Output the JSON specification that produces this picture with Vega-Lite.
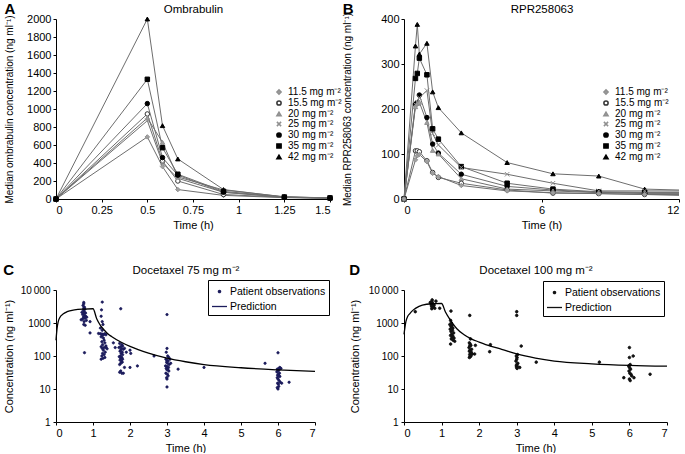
{
"$schema": "https://vega.github.io/schema/vega-lite/v6.json",
"padding": {"left": 3, "top": 2, "right": 0, "bottom": 0},
"background": "white",
"config": {
  "font": "Liberation Sans",
  "view": {"stroke": null},
  "axis": {"grid": false, "domainColor": "#000", "tickColor": "#000", "labelColor": "#000", "titleColor": "#000", "labelFont": "Liberation Sans", "titleFont": "Liberation Sans", "labelFontSize": 11, "titleFontSize": 11, "titleFontWeight": "normal", "tickSize": 3, "labelPadding": 2, "labelOverlap": false, "titleLimit": 400},
  "title": {"font": "Liberation Sans", "fontSize": 15, "fontWeight": "bold", "anchor": "start", "frame": "bounds", "offset": -14, "color": "#000"},
  "legend": {"labelFont": "Liberation Sans", "labelColor": "#000"}
},
"datasets": {
  "A": [
    {"d":"11.5","t":0,"c":0},{"d":"11.5","t":0.5,"c":690},{"d":"11.5","t":0.583,"c":360},{"d":"11.5","t":0.667,"c":105},{"d":"11.5","t":0.917,"c":40},{"d":"11.5","t":1.25,"c":15},{"d":"11.5","t":1.5,"c":8},
    {"d":"15.5","t":0,"c":0},{"d":"15.5","t":0.5,"c":945},{"d":"15.5","t":0.583,"c":420},{"d":"15.5","t":0.667,"c":200},{"d":"15.5","t":0.917,"c":50},{"d":"15.5","t":1.25,"c":18},{"d":"15.5","t":1.5,"c":10},
    {"d":"20","t":0,"c":0},{"d":"20","t":0.5,"c":900},{"d":"20","t":0.583,"c":630},{"d":"20","t":0.667,"c":245},{"d":"20","t":0.917,"c":100},{"d":"20","t":1.25,"c":25},{"d":"20","t":1.5,"c":12},
    {"d":"25","t":0,"c":0},{"d":"25","t":0.5,"c":870},{"d":"25","t":0.583,"c":400},{"d":"25","t":0.667,"c":230},{"d":"25","t":0.917,"c":75},{"d":"25","t":1.25,"c":20},{"d":"25","t":1.5,"c":10},
    {"d":"30","t":0,"c":0},{"d":"30","t":0.5,"c":1060},{"d":"30","t":0.583,"c":460},{"d":"30","t":0.667,"c":265},{"d":"30","t":0.917,"c":75},{"d":"30","t":1.25,"c":20},{"d":"30","t":1.5,"c":10},
    {"d":"35","t":0,"c":0},{"d":"35","t":0.5,"c":1330},{"d":"35","t":0.583,"c":570},{"d":"35","t":0.667,"c":275},{"d":"35","t":0.917,"c":85},{"d":"35","t":1.25,"c":22},{"d":"35","t":1.5,"c":12},
    {"d":"42","t":0,"c":0},{"d":"42","t":0.5,"c":2000},{"d":"42","t":0.583,"c":815},{"d":"42","t":0.667,"c":445},{"d":"42","t":0.917,"c":105},{"d":"42","t":1.25,"c":22},{"d":"42","t":1.5,"c":12}
  ],
  "B": [
    {"d":"42","t":0,"c":0},{"d":"42","t":0.5,"c":340},{"d":"42","t":0.58,"c":388},{"d":"42","t":0.67,"c":322},{"d":"42","t":1,"c":346},{"d":"42","t":1.25,"c":238},{"d":"42","t":1.5,"c":203},{"d":"42","t":2.5,"c":147},{"d":"42","t":4.5,"c":81},{"d":"42","t":6.5,"c":56},{"d":"42","t":8.5,"c":51},{"d":"42","t":10.5,"c":22},{"d":"42","t":12,"c":20},
    {"d":"35","t":0,"c":0},{"d":"35","t":0.5,"c":268},{"d":"35","t":0.58,"c":279},{"d":"35","t":0.67,"c":313},{"d":"35","t":1,"c":276},{"d":"35","t":1.25,"c":156},{"d":"35","t":1.5,"c":133},{"d":"35","t":2.5,"c":72},{"d":"35","t":4.5,"c":35},{"d":"35","t":6.5,"c":22},{"d":"35","t":8.5,"c":16},{"d":"35","t":10.5,"c":15},{"d":"35","t":12,"c":15},
    {"d":"30","t":0,"c":0},{"d":"30","t":0.5,"c":211},{"d":"30","t":0.58,"c":213},{"d":"30","t":0.67,"c":231},{"d":"30","t":1,"c":181},{"d":"30","t":1.25,"c":122},{"d":"30","t":1.5,"c":102},{"d":"30","t":2.5,"c":55},{"d":"30","t":4.5,"c":28},{"d":"30","t":6.5,"c":20},{"d":"30","t":8.5,"c":15},{"d":"30","t":10.5,"c":12},{"d":"30","t":12,"c":12},
    {"d":"25","t":0,"c":0},{"d":"25","t":0.5,"c":210},{"d":"25","t":0.58,"c":215},{"d":"25","t":0.67,"c":225},{"d":"25","t":1,"c":241},{"d":"25","t":1.25,"c":145},{"d":"25","t":1.5,"c":120},{"d":"25","t":2.5,"c":70},{"d":"25","t":4.5,"c":55},{"d":"25","t":6.5,"c":35},{"d":"25","t":8.5,"c":18},{"d":"25","t":10.5,"c":18},{"d":"25","t":12,"c":18},
    {"d":"20","t":0,"c":0},{"d":"20","t":0.5,"c":205},{"d":"20","t":0.58,"c":212},{"d":"20","t":0.67,"c":215},{"d":"20","t":1,"c":170},{"d":"20","t":1.25,"c":108},{"d":"20","t":1.5,"c":100},{"d":"20","t":2.5,"c":45},{"d":"20","t":4.5,"c":22},{"d":"20","t":6.5,"c":18},{"d":"20","t":8.5,"c":14},{"d":"20","t":10.5,"c":14},{"d":"20","t":12,"c":14},
    {"d":"15.5","t":0,"c":0},{"d":"15.5","t":0.5,"c":107},{"d":"15.5","t":0.58,"c":107},{"d":"15.5","t":0.67,"c":105},{"d":"15.5","t":1,"c":85},{"d":"15.5","t":1.25,"c":59},{"d":"15.5","t":1.5,"c":48},{"d":"15.5","t":2.5,"c":35},{"d":"15.5","t":4.5,"c":20},{"d":"15.5","t":6.5,"c":13},{"d":"15.5","t":8.5,"c":12},{"d":"15.5","t":10.5,"c":10},{"d":"15.5","t":12,"c":10},
    {"d":"11.5","t":0,"c":0},{"d":"11.5","t":0.5,"c":87},{"d":"11.5","t":0.58,"c":96},{"d":"11.5","t":0.67,"c":99},{"d":"11.5","t":1,"c":83},{"d":"11.5","t":1.25,"c":57},{"d":"11.5","t":1.5,"c":50},{"d":"11.5","t":2.5,"c":30},{"d":"11.5","t":4.5,"c":18},{"d":"11.5","t":6.5,"c":14},{"d":"11.5","t":8.5,"c":12},{"d":"11.5","t":10.5,"c":10},{"d":"11.5","t":12,"c":8}
  ],
  "Cobs": [
    {"t":0.72,"c":1300},{"t":0.68,"c":1250},{"t":0.75,"c":4200},{"t":0.75,"c":3800},{"t":0.73,"c":3400},{"t":0.77,"c":3000},{"t":0.75,"c":2800},{"t":0.78,"c":2600},{"t":0.74,"c":2400},{"t":0.76,"c":2200},{"t":0.8,"c":2000},{"t":0.75,"c":1900},{"t":0.72,"c":1800},{"t":0.77,"c":1700},{"t":0.8,"c":1600},{"t":0.74,"c":1500},{"t":0.78,"c":1400},{"t":0.82,"c":1200},{"t":0.76,"c":1100},{"t":0.75,"c":900},{"t":0.79,"c":850},{"t":0.77,"c":126},{"t":0.92,"c":1100},{"t":0.92,"c":500},{"t":0.7,"c":2100},{"t":0.83,"c":1500},
    {"t":1.25,"c":4300},{"t":1.23,"c":2500},{"t":1.22,"c":1600},{"t":1.25,"c":1100},{"t":1.27,"c":900},{"t":1.2,"c":700},{"t":1.25,"c":600},{"t":1.15,"c":480},{"t":1.2,"c":470},{"t":1.23,"c":460},{"t":1.26,"c":455},{"t":1.29,"c":450},{"t":1.32,"c":470},{"t":1.35,"c":440},{"t":1.25,"c":420},{"t":1.22,"c":380},{"t":1.28,"c":350},{"t":1.3,"c":300},{"t":1.24,"c":270},{"t":1.32,"c":250},{"t":1.26,"c":220},{"t":1.35,"c":200},{"t":1.22,"c":190},{"t":1.3,"c":180},{"t":1.25,"c":170},{"t":1.38,"c":165},{"t":1.28,"c":150},{"t":1.33,"c":130},{"t":1.26,"c":120},{"t":1.3,"c":110},{"t":1.24,"c":100},{"t":1.32,"c":90},{"t":1.27,"c":85},{"t":1.22,"c":80},{"t":1.35,"c":180},
    {"t":1.55,"c":250},{"t":1.6,"c":180},{"t":1.75,"c":2700},{"t":1.72,"c":240},{"t":1.78,"c":220},{"t":1.8,"c":200},{"t":1.74,"c":190},{"t":1.7,"c":180},{"t":1.77,"c":170},{"t":1.82,"c":160},{"t":1.75,"c":150},{"t":1.73,"c":140},{"t":1.79,"c":130},{"t":1.76,"c":120},{"t":1.8,"c":110},{"t":1.74,"c":100},{"t":1.71,"c":95},{"t":1.78,"c":90},{"t":1.75,"c":85},{"t":1.8,"c":80},{"t":1.73,"c":75},{"t":1.77,"c":70},{"t":1.79,"c":65},{"t":1.75,"c":60},{"t":1.72,"c":55},{"t":1.85,"c":45},{"t":1.75,"c":35},{"t":1.72,"c":32},{"t":1.78,"c":30},{"t":1.82,"c":30},{"t":2.0,"c":150},{"t":2.02,"c":120},{"t":2.0,"c":45},{"t":2.2,"c":50},{"t":2.65,"c":100},{"t":1.85,"c":170},{"t":1.9,"c":130},
    {"t":3.0,"c":1800},{"t":3.0,"c":170},{"t":2.98,"c":130},{"t":3.02,"c":100},{"t":3.05,"c":90},{"t":2.97,"c":80},{"t":3.0,"c":75},{"t":3.03,"c":70},{"t":2.99,"c":65},{"t":3.01,"c":60},{"t":3.06,"c":55},{"t":2.96,"c":50},{"t":3.0,"c":48},{"t":3.04,"c":45},{"t":2.98,"c":42},{"t":3.02,"c":40},{"t":3.0,"c":38},{"t":3.05,"c":35},{"t":2.97,"c":30},{"t":3.01,"c":28},{"t":3.03,"c":25},{"t":2.99,"c":22},{"t":3.0,"c":20},{"t":3.0,"c":11.5},{"t":3.3,"c":40},{"t":3.1,"c":60},{"t":3.08,"c":80},
    {"t":4.0,"c":45},
    {"t":6.0,"c":1800},{"t":6.0,"c":125},{"t":5.65,"c":60},{"t":6.05,"c":45},{"t":6.02,"c":42},{"t":5.98,"c":40},{"t":6.03,"c":38},{"t":6.0,"c":35},{"t":5.97,"c":33},{"t":6.04,"c":30},{"t":6.01,"c":28},{"t":5.99,"c":26},{"t":6.02,"c":25},{"t":6.05,"c":24},{"t":5.98,"c":22},{"t":6.0,"c":20},{"t":6.03,"c":18},{"t":6.06,"c":16},{"t":5.99,"c":15},{"t":6.01,"c":14},{"t":6.02,"c":12},{"t":5.98,"c":11},{"t":6.0,"c":10},{"t":6.3,"c":16},{"t":6.1,"c":15},{"t":6.08,"c":42}
  ],
  "Cpred": [
    {"t":0,"c":300},{"t":0.03,"c":700},{"t":0.06,"c":1100},{"t":0.1,"c":1450},{"t":0.2,"c":1900},{"t":0.3,"c":2200},{"t":0.5,"c":2500},{"t":0.75,"c":2650},{"t":1.0,"c":2700},{"t":1.1,"c":1350},{"t":1.2,"c":850},{"t":1.3,"c":620},{"t":1.4,"c":470},{"t":1.5,"c":390},{"t":1.75,"c":265},{"t":2.0,"c":195},{"t":2.5,"c":122},{"t":3.0,"c":86},{"t":3.5,"c":67},{"t":4.0,"c":55},{"t":5.0,"c":44},{"t":6.0,"c":38},{"t":7.0,"c":34}
  ],
  "Dobs": [
    {"t":0.3,"c":2200},{"t":0.7,"c":4200},{"t":0.72,"c":3800},{"t":0.75,"c":5000},{"t":0.74,"c":4500},{"t":0.76,"c":4000},{"t":0.78,"c":3600},{"t":0.8,"c":3500},{"t":0.73,"c":3300},{"t":0.77,"c":3200},{"t":0.79,"c":3000},{"t":0.75,"c":2900},{"t":0.82,"c":2800},{"t":0.74,"c":2700},{"t":0.95,"c":2800},{"t":0.85,"c":4600},
    {"t":1.25,"c":2300},{"t":1.24,"c":1200},{"t":1.26,"c":1000},{"t":1.22,"c":900},{"t":1.28,"c":850},{"t":1.25,"c":800},{"t":1.27,"c":750},{"t":1.3,"c":700},{"t":1.23,"c":650},{"t":1.29,"c":600},{"t":1.25,"c":550},{"t":1.32,"c":500},{"t":1.27,"c":450},{"t":1.24,"c":420},{"t":1.3,"c":400},{"t":1.28,"c":380},{"t":1.33,"c":350},{"t":1.26,"c":330},{"t":1.31,"c":300},{"t":1.35,"c":280},{"t":1.24,"c":230},
    {"t":1.75,"c":1700},{"t":1.77,"c":330},{"t":1.74,"c":250},{"t":1.76,"c":230},{"t":1.78,"c":210},{"t":1.75,"c":200},{"t":1.73,"c":180},{"t":1.8,"c":160},{"t":1.76,"c":150},{"t":1.74,"c":140},{"t":1.79,"c":130},{"t":1.77,"c":120},{"t":1.82,"c":115},{"t":1.75,"c":110},{"t":1.78,"c":100},{"t":1.76,"c":95},{"t":1.74,"c":90},{"t":1.9,"c":210},{"t":1.88,"c":115},
    {"t":2.3,"c":220},{"t":2.28,"c":135},
    {"t":3.0,"c":2200},{"t":3.0,"c":1700},{"t":3.02,"c":110},{"t":2.99,"c":100},{"t":3.01,"c":90},{"t":3.0,"c":80},{"t":2.98,"c":70},{"t":3.03,"c":60},{"t":3.0,"c":55},{"t":2.99,"c":50},{"t":3.02,"c":48},{"t":3.0,"c":45},{"t":3.01,"c":42},{"t":3.12,"c":200},{"t":3.08,"c":45},{"t":3.52,"c":65},
    {"t":5.2,"c":65},
    {"t":6.0,"c":180},{"t":6.0,"c":90},{"t":6.1,"c":100},{"t":6.02,"c":55},{"t":5.98,"c":50},{"t":6.0,"c":45},{"t":6.03,"c":40},{"t":5.99,"c":35},{"t":6.01,"c":30},{"t":6.04,"c":28},{"t":6.06,"c":25},{"t":5.85,"c":22},{"t":6.0,"c":20},{"t":6.02,"c":18},{"t":6.12,"c":22},{"t":6.55,"c":28}
  ],
  "Dpred": [
    {"t":0,"c":450},{"t":0.05,"c":1100},{"t":0.1,"c":1600},{"t":0.15,"c":1900},{"t":0.25,"c":2500},{"t":0.4,"c":3200},{"t":0.6,"c":3700},{"t":0.8,"c":3850},{"t":1.0,"c":3900},{"t":1.1,"c":2200},{"t":1.2,"c":1400},{"t":1.3,"c":950},{"t":1.4,"c":680},{"t":1.6,"c":440},{"t":1.8,"c":325},{"t":2.0,"c":265},{"t":2.3,"c":200},{"t":2.6,"c":160},{"t":3.0,"c":115},{"t":3.5,"c":86},{"t":4.0,"c":70},{"t":5.0,"c":58},{"t":6.0,"c":52},{"t":7.0,"c":49}
  ]
},
"columns": 2,
"spacing": {"row": 91, "column": 74},
"bounds": "flush",
"resolve": {
  "scale": {"color": "independent", "shape": "independent", "fill": "independent", "stroke": "independent", "size": "independent"},
  "legend": {"color": "independent", "shape": "independent", "fill": "independent", "stroke": "independent", "size": "independent"}
},
"concat": [
  {
    "width": 274, "height": 180,
    "title": {"text": "A"},
    "data": {"name": "A"},
    "layer": [
      {
        "mark": {"type": "line", "strokeWidth": 1, "color": "#6e6e6e"},
        "encoding": {
          "x": {"field": "t", "type": "quantitative", "scale": {"domain": [0, 1.5], "nice": false}, "axis": {"orient": "bottom", "values": [0, 0.25, 0.5, 0.75, 1, 1.25, 1.5], "labelExpr": "format(datum.value, '~g')", "title": "Time (h)", "titlePadding": 4}},
          "y": {"field": "c", "type": "quantitative", "scale": {"domain": [0, 2000], "nice": false}, "axis": {"values": [0,200,400,600,800,1000,1200,1400,1600,1800,2000], "labelExpr": "format(datum.value, 'd')", "title": "Median ombrabulin concentration (ng ml\u207b\u00b9)", "titleFontSize": 10, "titlePadding": 12}},
          "detail": {"field": "d", "type": "nominal"}
        }
      },
      {
        "mark": {"type": "point", "size": 20, "strokeWidth": 1, "opacity": 1},
        "encoding": {
          "x": {"field": "t", "type": "quantitative", "axis": {"orient": "top", "title": "Ombrabulin", "labels": false, "ticks": false, "domain": false, "titlePadding": 5, "titleFontSize": 11.5}},
          "y": {"field": "c", "type": "quantitative", "axis": {"values": [0,200,400,600,800,1000,1200,1400,1600,1800,2000], "labelExpr": "format(datum.value, 'd')", "title": "Median ombrabulin concentration (ng ml\u207b\u00b9)", "titleFontSize": 10, "titlePadding": 12}},
          "shape": {"field": "d", "type": "nominal", "scale": {"domain": ["11.5","15.5","20","25","30","35","42"], "range": ["diamond","circle","triangle-up","M-1,-1L1,1M-1,1L1,-1","circle","square","triangle-up"]}, "legend": {"orient": "none", "legendX": 218, "legendY": 68, "title": null, "labelFontSize": 10, "symbolSize": 18, "rowPadding": -1.5, "labelExpr": "datum.label + ' mg m\u207b\u00b2'"}},
          "fill": {"field": "d", "type": "nominal", "scale": {"domain": ["11.5","15.5","20","25","30","35","42"], "range": ["#a0a0a0","#ffffff","#a0a0a0","#b0b0b0","#000000","#000000","#000000"]}, "legend": {"orient": "none", "legendX": 218, "legendY": 68, "title": null, "labelFontSize": 10, "symbolSize": 18, "rowPadding": -1.5, "labelExpr": "datum.label + ' mg m\u207b\u00b2'"}},
          "stroke": {"field": "d", "type": "nominal", "scale": {"domain": ["11.5","15.5","20","25","30","35","42"], "range": ["#909090","#333333","#909090","#909090","#000000","#000000","#000000"]}, "legend": {"orient": "none", "legendX": 218, "legendY": 68, "title": null, "labelFontSize": 10, "symbolSize": 18, "rowPadding": -1.5, "labelExpr": "datum.label + ' mg m\u207b\u00b2'"}}
        }
      }
    ]
  },
  {
    "width": 275, "height": 180,
    "title": {"text": "B"},
    "data": {"name": "B"},
    "layer": [
      {
        "mark": {"type": "line", "strokeWidth": 1, "color": "#6e6e6e"},
        "encoding": {
          "x": {"field": "t", "type": "quantitative", "scale": {"domain": [0, 12], "nice": false}, "axis": {"orient": "bottom", "values": [0, 6, 12], "title": "Time (h)", "titlePadding": 4}},
          "y": {"field": "c", "type": "quantitative", "scale": {"domain": [0, 400], "nice": false}, "axis": {"values": [0,100,200,300,400], "title": "Median RPR258063 concentration (ng ml\u207b\u00b9)", "titleFontSize": 10, "titlePadding": 28}},
          "detail": {"field": "d", "type": "nominal"}
        }
      },
      {
        "transform": [{"filter": "datum.t < 12"}],
        "mark": {"type": "point", "size": 20, "strokeWidth": 1, "opacity": 1},
        "encoding": {
          "x": {"field": "t", "type": "quantitative", "axis": {"orient": "top", "title": "RPR258063", "labels": false, "ticks": false, "domain": false, "titlePadding": 5, "titleFontSize": 11.5}},
          "y": {"field": "c", "type": "quantitative", "axis": {"values": [0,100,200,300,400], "title": "Median RPR258063 concentration (ng ml\u207b\u00b9)", "titleFontSize": 10, "titlePadding": 28}},
          "shape": {"field": "d", "type": "nominal", "scale": {"domain": ["11.5","15.5","20","25","30","35","42"], "range": ["diamond","circle","triangle-up","M-1,-1L1,1M-1,1L1,-1","circle","square","triangle-up"]}, "legend": {"orient": "none", "legendX": 197, "legendY": 68, "title": null, "labelFontSize": 10, "symbolSize": 18, "rowPadding": -1.5, "labelExpr": "datum.label + ' mg m\u207b\u00b2'"}},
          "fill": {"field": "d", "type": "nominal", "scale": {"domain": ["11.5","15.5","20","25","30","35","42"], "range": ["#a0a0a0","#ffffff","#a0a0a0","#b0b0b0","#000000","#000000","#000000"]}, "legend": {"orient": "none", "legendX": 197, "legendY": 68, "title": null, "labelFontSize": 10, "symbolSize": 18, "rowPadding": -1.5, "labelExpr": "datum.label + ' mg m\u207b\u00b2'"}},
          "stroke": {"field": "d", "type": "nominal", "scale": {"domain": ["11.5","15.5","20","25","30","35","42"], "range": ["#909090","#333333","#909090","#909090","#000000","#000000","#000000"]}, "legend": {"orient": "none", "legendX": 197, "legendY": 68, "title": null, "labelFontSize": 10, "symbolSize": 18, "rowPadding": -1.5, "labelExpr": "datum.label + ' mg m\u207b\u00b2'"}}
        }
      }
    ]
  },
  {
    "width": 259, "height": 132,
    "title": {"text": "C"},
    "layer": [
      {
        "data": {"name": "Cobs"},
        "mark": {"type": "point", "filled": false, "color": "#1c1c5c", "fill": "#1c1c5c", "strokeWidth": 0.8, "opacity": 1, "size": 256},
        "encoding": {
          "x": {"field": "t", "type": "quantitative", "scale": {"domain": [0, 7], "nice": false}, "axis": {"orient": "bottom", "values": [0,1,2,3,4,5,6,7], "title": "Time (h)", "titlePadding": 4}},
          "y": {"field": "c", "type": "quantitative", "scale": {"type": "log", "domain": [1, 10000], "nice": false}, "axis": {"values": [1,10,100,1000,10000], "labelExpr": "datum.value >= 10000 ? '10\u2009000' : format(datum.value, 'd')", "labelFontSize": 10, "labelPadding": 3, "title": "Concentration (ng ml\u207b\u00b9)", "titlePadding": 6}},
          "shape": {"datum": "Patient observations", "type": "nominal", "scale": {"domain": ["Patient observations", "Prediction"], "range": ["M-0.15,0A0.15,0.15 0 1,0 0.15,0A0.15,0.15 0 1,0 -0.15,0Z", "M-1,0L1,0"]}, "legend": {"orient": "none", "legendX": 152, "legendY": -10, "title": null, "strokeColor": "#000", "fillColor": "#fff", "padding": 3, "labelFontSize": 10.5, "rowPadding": 1, "labelOffset": 2, "symbolSize": 225, "symbolStrokeWidth": 1.3, "encode": {"legend": {"stroke": {"value": "#000000"}, "strokeWidth": {"value": 1}, "fill": {"value": "#ffffff"}}, "symbols": {"strokeWidth": {"value": 1.3}}}}}
        }
      },
      {
        "data": {"name": "Cpred"},
        "mark": {"type": "line", "strokeWidth": 1.3, "interpolate": "monotone", "color": "#000"},
        "encoding": {
          "x": {"field": "t", "type": "quantitative", "axis": {"orient": "top", "title": "Docetaxel 75 mg m\u207b\u00b2", "labels": false, "ticks": false, "domain": false, "titlePadding": 15, "titleFontSize": 11.5}},
          "y": {"field": "c", "type": "quantitative"}
        }
      }
    ]
  },
  {
    "width": 263, "height": 132,
    "title": {"text": "D"},
    "layer": [
      {
        "data": {"name": "Dobs"},
        "mark": {"type": "point", "filled": false, "color": "#111111", "fill": "#111111", "strokeWidth": 0.8, "opacity": 1, "size": 324},
        "encoding": {
          "x": {"field": "t", "type": "quantitative", "scale": {"domain": [0, 7], "nice": false}, "axis": {"orient": "bottom", "values": [0,1,2,3,4,5,6,7], "title": "Time (h)", "titlePadding": 4}},
          "y": {"field": "c", "type": "quantitative", "scale": {"type": "log", "domain": [1, 10000], "nice": false}, "axis": {"values": [1,10,100,1000,10000], "labelExpr": "datum.value >= 10000 ? '10\u2009000' : format(datum.value, 'd')", "labelFontSize": 10, "labelPadding": 3, "title": "Concentration (ng ml\u207b\u00b9)", "titlePadding": 8}},
          "shape": {"datum": "Patient observations", "type": "nominal", "scale": {"domain": ["Patient observations", "Prediction"], "range": ["M-0.15,0A0.15,0.15 0 1,0 0.15,0A0.15,0.15 0 1,0 -0.15,0Z", "M-1,0L1,0"]}, "legend": {"orient": "none", "legendX": 139, "legendY": -9, "title": null, "strokeColor": "#000", "fillColor": "#fff", "padding": 3, "labelFontSize": 10.5, "rowPadding": 1, "labelOffset": 2, "symbolSize": 225, "symbolStrokeWidth": 1.3, "encode": {"legend": {"stroke": {"value": "#000000"}, "strokeWidth": {"value": 1}, "fill": {"value": "#ffffff"}}, "symbols": {"strokeWidth": {"value": 1.3}}}}}
        }
      },
      {
        "data": {"name": "Dpred"},
        "mark": {"type": "line", "strokeWidth": 1.3, "interpolate": "monotone", "color": "#000"},
        "encoding": {
          "x": {"field": "t", "type": "quantitative", "axis": {"orient": "top", "title": "Docetaxel 100 mg m\u207b\u00b2", "labels": false, "ticks": false, "domain": false, "titlePadding": 15, "titleFontSize": 11.5}},
          "y": {"field": "c", "type": "quantitative"}
        }
      }
    ]
  }
]
}
